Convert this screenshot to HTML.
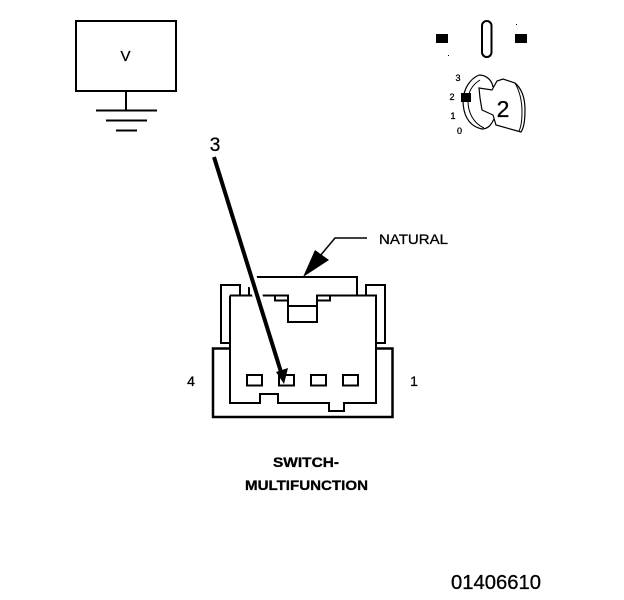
<!DOCTYPE html>
<html><head><meta charset="utf-8"><style>
html,body{margin:0;padding:0;background:#fff;width:624px;height:600px;overflow:hidden}
svg{display:block}
text{font-family:"Liberation Sans",sans-serif;fill:#000;stroke:#000;stroke-width:.3}
</style></head><body>
<svg width="624" height="600" viewBox="0 0 624 600" xmlns="http://www.w3.org/2000/svg" fill="none" stroke="#000">
<!-- voltmeter -->
<rect x="76" y="21" width="100" height="70" stroke-width="2"/>
<path d="M126 91V110M96 110.500H157M106 120.500H147M116 130.500H137" stroke-width="2"/>
<text x="125.500" y="61" font-size="15" text-anchor="middle">V</text>
<!-- top right symbols -->
<rect x="436" y="34" width="12" height="9" fill="#000" stroke="none"/>
<rect x="515" y="34" width="12" height="9" fill="#000" stroke="none"/>
<rect x="482" y="21" width="9.500" height="36" rx="4.700" stroke-width="2"/>
<rect x="516" y="24" width="1" height="1" fill="#000" stroke="none"/>
<rect x="448" y="55" width="1" height="1" fill="#000" stroke="none"/>
<!-- key -->
<path d="M479 75C470 79 464 88 463 100C463 114 468 126 482 129C488 129 491 125 494 119" stroke-width="1.200"/>
<path d="M479 75C486 75 492 80 493 87" stroke-width="1.200"/>
<path d="M480 80C472 85 468 92 468 101C468 112 473 123 484 128" stroke-width="1"/>
<path d="M479 88L492 90L497 81L503 79L515 83C521 88 525 97 525 110C525 120 524 128 521 132L496 125L493 115L482 110L480 98Z" stroke-width="1.200"/>
<path d="M515 83C519 90 522 100 522 112C522 120 521 127 519 131" stroke-width="1"/>
<rect x="461" y="93" width="10" height="9" fill="#000" stroke="none"/>
<text x="503" y="117" font-size="23" text-anchor="middle">2</text>
<text x="458" y="81" font-size="9" text-anchor="middle">3</text>
<text x="452" y="100" font-size="9" text-anchor="middle">2</text>
<text x="453" y="119" font-size="9" text-anchor="middle">1</text>
<text x="459.500" y="134" font-size="9" text-anchor="middle">0</text>
<!-- connector -->
<path d="M230 348.500H213V417H392.500V348.500H376" stroke-width="2.500"/>
<path d="M230 343H221V285H240V295M376 343H385V285H366V295" stroke-width="2"/>
<path d="M249 287V295M249 277H357V295" stroke-width="2"/>
<path d="M230 295.500H230V403H260V394H278V403H329V411H344V403H376V295.500H317V322H288V295.500H230" stroke-width="2"/>
<path d="M275 296V300.500H288M330 296V300.500H317" stroke-width="2"/>
<path d="M288 306H317" stroke-width="2"/>
<rect x="247" y="375" width="15" height="10.500" stroke-width="2"/>
<rect x="279" y="375" width="15" height="10.500" stroke-width="2"/>
<rect x="311" y="375" width="15" height="10.500" stroke-width="2"/>
<rect x="343" y="375" width="15" height="10.500" stroke-width="2"/>
<!-- pointer 3 -->
<path d="M247 262L272 342" stroke="#fff" stroke-width="10"/>
<path d="M214 157L281 372" stroke-width="4"/>
<path d="M276 372L288 368L284 384Z" fill="#000" stroke="none"/>
<text x="215" y="151" font-size="19" text-anchor="middle">3</text>
<!-- natural leader -->
<path d="M367 238H335L320 256" stroke-width="1.500"/>
<path d="M303 277L315 250L329 260Z" fill="#000" stroke="none"/>
<text x="379" y="244" font-size="14" textLength="69" lengthAdjust="spacingAndGlyphs">NATURAL</text>
<!-- labels -->
<text x="191" y="386" font-size="14" text-anchor="middle">4</text>
<text x="414" y="386" font-size="14" text-anchor="middle">1</text>
<text x="273" y="467" font-size="14" font-weight="bold" textLength="66" lengthAdjust="spacingAndGlyphs">SWITCH-</text>
<text x="245" y="490" font-size="14" font-weight="bold" textLength="123" lengthAdjust="spacingAndGlyphs">MULTIFUNCTION</text>
<text x="451" y="589" font-size="20" textLength="90" lengthAdjust="spacingAndGlyphs">01406610</text>
</svg>
</body></html>
